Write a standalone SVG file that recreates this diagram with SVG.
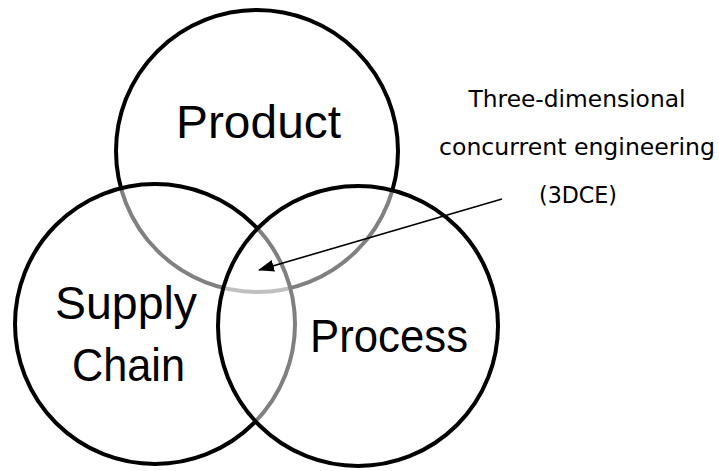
<svg xmlns="http://www.w3.org/2000/svg" width="719" height="471" viewBox="0 0 719 471">
  <defs>
    <style>
      .ring { fill: #ffffff; fill-opacity: 0.5; stroke: #000000; stroke-width: 4; }
      .big { font-family: "Liberation Sans", Arial, sans-serif; font-size: 47px; fill: #000000; text-anchor: middle; }
      .note { font-family: "DejaVu Sans", Verdana, sans-serif; font-size: 23.5px; fill: #000000; text-anchor: middle; }
      .link { stroke: #000000; stroke-width: 1.6; fill: none; }
    </style>
    <marker id="arrowhead" viewBox="0 0 16 12" refX="15" refY="6" markerWidth="16" markerHeight="12" markerUnits="userSpaceOnUse" orient="auto">
      <path d="M0,0 L16,6 L0,12 Z" fill="#000000"/>
    </marker>
  </defs>

  <rect width="719" height="471" fill="#ffffff"/>

  <!-- three overlapping sets; half-transparent fills grey out the arcs underneath -->
  <g id="product">
    <circle class="ring" cx="257" cy="151" r="141"/>
    <text class="big" x="258.5" y="138" textLength="165" lengthAdjust="spacingAndGlyphs">Product</text>
  </g>

  <g id="supply-chain">
    <circle class="ring" cx="155" cy="324" r="140"/>
    <text class="big" x="126" y="319" textLength="142" lengthAdjust="spacingAndGlyphs">Supply</text>
    <text class="big" x="128.5" y="381" textLength="113" lengthAdjust="spacingAndGlyphs">Chain</text>
  </g>

  <g id="process">
    <circle class="ring" cx="358" cy="326" r="140"/>
    <text class="big" x="389" y="352" textLength="158" lengthAdjust="spacingAndGlyphs">Process</text>
  </g>

  <g id="label-3dce">
    <text class="note" x="577" y="107" textLength="217" lengthAdjust="spacingAndGlyphs">Three-dimensional</text>
    <text class="note" x="577" y="155" textLength="276" lengthAdjust="spacingAndGlyphs">concurrent engineering</text>
    <text class="note" x="578" y="203" textLength="78" lengthAdjust="spacingAndGlyphs">(3DCE)</text>
  </g>

  <g id="connectors">
    <line class="link" x1="502" y1="199" x2="259" y2="270" marker-end="url(#arrowhead)"/>
  </g>
</svg>
